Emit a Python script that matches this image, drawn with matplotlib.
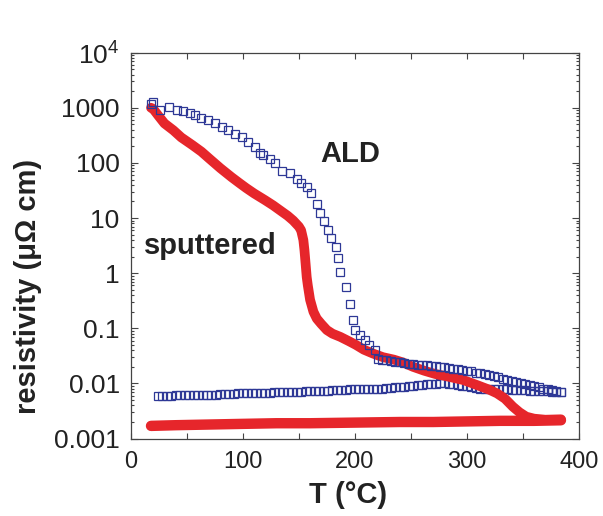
import numpy as np
import matplotlib

matplotlib.use("Agg")
import matplotlib.pyplot as plt
from matplotlib.ticker import LogLocator, NullFormatter

plt.rcParams["font.family"] = ["Liberation Sans", "DejaVu Sans"]
plt.rcParams["mathtext.fontset"] = "custom"
plt.rcParams["mathtext.rm"] = "Liberation Sans"

# sputtered film: heating run, then cooling run (T in °C, resistivity in µΩ cm)
sput_heat_T = [18, 20, 25, 30, 38, 45, 55, 63, 70, 80, 90, 97, 103, 110, 120, 127,
               135, 140, 145, 150, 152, 154, 155, 156, 157, 158, 160, 163, 166, 170,
               175, 180, 187, 195, 201, 208, 216, 225, 235, 243, 252, 262, 272, 282,
               297, 310, 320, 327, 334, 341, 347, 353, 360, 370, 384]
sput_heat_rho = [1000, 950, 700, 520, 390, 290, 210, 160, 120, 80, 55, 43, 35, 28, 21, 17,
                 13, 11, 9, 7, 6, 4, 2.6, 1.5, 0.85, 0.6, 0.33, 0.2, 0.15, 0.12,
                 0.093, 0.08, 0.07, 0.058, 0.05, 0.041, 0.035, 0.03, 0.027, 0.024, 0.02,
                 0.017, 0.0148, 0.0135, 0.0115, 0.0092, 0.0077, 0.0066, 0.0053, 0.0038,
                 0.003, 0.0025, 0.0023, 0.0022, 0.00224]
sput_cool_T = [384, 360, 330, 300, 270, 240, 200, 160, 130, 100, 70, 40, 18]
sput_cool_rho = [0.00215, 0.0021, 0.0021, 0.00205, 0.002, 0.002, 0.00195, 0.0019,
                 0.0019, 0.00185, 0.0018, 0.00175, 0.0017]

# ALD film: heating run, then cooling run
ald_heat_T = [18, 19.5, 26, 34, 41, 47, 53, 57, 63, 69, 75, 81, 87, 93, 99, 105, 111,
              115, 118, 124, 129, 135, 142, 148, 152, 157, 161, 166, 169, 172.6, 176,
              179, 183, 185, 187, 192, 195.5, 198.5, 200, 204.5, 209, 213, 218, 221,
              224, 228, 232, 236, 240, 244, 248, 252, 256, 260, 264, 268, 272, 276,
              280, 284, 288, 292, 296, 300, 304, 308, 312, 316, 320, 324, 328, 332,
              336, 340, 344, 348, 352, 356, 360, 364, 368, 372, 376, 380, 384]
ald_heat_rho = [1150, 1250, 930, 1050, 930, 870, 810, 740, 660, 600, 525, 450, 390, 340,
                290, 240, 195, 150, 138, 120, 98, 72, 65, 52, 44, 37, 29, 18, 12.3, 8.7,
                6.0, 4.3, 3.0, 1.86, 1.05, 0.56, 0.28, 0.14, 0.093, 0.076, 0.062, 0.05,
                0.041, 0.028, 0.0269, 0.0263, 0.0251, 0.0245, 0.024, 0.0234, 0.0229,
                0.0224, 0.0219, 0.0219, 0.0214, 0.0209, 0.0204, 0.02, 0.0195, 0.019,
                0.0186, 0.0182, 0.0174, 0.017, 0.0166, 0.0158, 0.0155, 0.0148, 0.0141,
                0.0135, 0.0129, 0.0123, 0.0117, 0.0112, 0.0107, 0.0102, 0.0098, 0.0093,
                0.0089, 0.0085, 0.0081, 0.0078, 0.0076, 0.0072, 0.0071]
ald_cool_T = [384, 380, 376, 372, 368, 364, 360, 356, 352, 348, 344, 340, 336, 332, 328,
              324, 320, 316, 312, 308, 304, 300, 296, 292, 288, 284, 280, 276, 272, 268,
              264, 260, 256, 252, 248, 244, 240, 236, 232, 228, 224, 220, 216, 212, 208,
              204, 200, 196, 192, 188, 184, 180, 176, 172, 168, 164, 160, 156, 152, 148,
              144, 140, 136, 132, 128, 124, 120, 116, 112, 108, 104, 100, 96, 92, 88,
              84, 80, 76, 72, 68, 64, 60, 56, 52, 48, 44, 40, 36, 32, 28, 24]
ald_cool_rho = [0.0069, 0.0071, 0.0071, 0.0072, 0.0072, 0.0074, 0.0074, 0.0074, 0.0076,
                0.0076, 0.0076, 0.0076, 0.0078, 0.0078, 0.0078, 0.0079, 0.0079, 0.0081,
                0.0081, 0.0083, 0.0087, 0.0089, 0.0091, 0.0093, 0.0096, 0.0098, 0.01,
                0.01, 0.0098, 0.0098, 0.0096, 0.0093, 0.0093, 0.0091, 0.0089, 0.0087,
                0.0085, 0.0085, 0.0083, 0.0083, 0.0081, 0.0081, 0.0079, 0.0079, 0.0079,
                0.0078, 0.0078, 0.0078, 0.0076, 0.0076, 0.0076, 0.0076, 0.0074, 0.0074,
                0.0074, 0.0072, 0.0072, 0.0072, 0.0071, 0.0071, 0.0071, 0.0071, 0.0069,
                0.0069, 0.0069, 0.0068, 0.0068, 0.0068, 0.0068, 0.0066, 0.0066, 0.0066,
                0.0066, 0.0065, 0.0065, 0.0065, 0.0065, 0.0063, 0.0063, 0.0063, 0.0063,
                0.0063, 0.0062, 0.0062, 0.0062, 0.0062, 0.0062, 0.006, 0.006, 0.006, 0.006]

x_ticks = [0, 50, 100, 150, 200, 250, 300, 350, 400]
x_labels = ["0", "", "100", "", "200", "", "300", "", "400"]
y_ticks = [1e-3, 1e-2, 1e-1, 1, 10, 100, 1000, 1e4]
y_labels = ["0.001", "0.01", "0.1", "1", "10", "100", "1000", r"$10^4$"]

RED = "#e6262b"
BLUE = "#2e3896"
INK = "#222222"

fig = plt.figure(figsize=(6.03, 5.16), dpi=100)
ax = fig.add_axes([0.217, 0.150, 0.743, 0.748])

ax.plot(ald_cool_T, ald_cool_rho, ls="none", marker="s", ms=5.4, mfc="none",
        mec=BLUE, mew=0.9)
ax.plot(sput_heat_T, sput_heat_rho, color=RED, lw=7, solid_capstyle="round",
        solid_joinstyle="round")
ax.plot(sput_cool_T, sput_cool_rho, color=RED, lw=7.5, solid_capstyle="round")
ax.plot(ald_heat_T, ald_heat_rho, ls="none", marker="s", ms=5.4, mfc="none",
        mec=BLUE, mew=0.9)

ax.set_yscale("log")
ax.set_xlim(0, 400)
ax.set_ylim(1e-3, 1e4)
ax.set_xticks(x_ticks, x_labels)
ax.set_yticks(y_ticks, y_labels)
ax.yaxis.set_minor_locator(LogLocator(base=10, subs=np.arange(2, 10)))
ax.yaxis.set_minor_formatter(NullFormatter())

ax.tick_params(axis="both", which="both", direction="in", top=True, right=True,
               color="#444444", width=0.8)
ax.tick_params(axis="x", which="major", length=4, labelsize=17, pad=9, labelcolor=INK)
ax.tick_params(axis="y", which="major", length=5, labelsize=19, pad=8, labelcolor=INK)
ax.tick_params(axis="y", which="minor", length=2.5)
for s in ax.spines.values():
    s.set_color("#444444")
    s.set_linewidth(0.9)

ax.text(195.5, 145, "ALD", fontsize=21, fontweight="bold", color=INK,
        ha="center", va="center")
ax.text(71.4, 3.1, "sputtered", fontsize=21, fontweight="bold", color=INK,
        ha="center", va="center")

fig.text(0.0464, 0.444, "resistivity (μΩ cm)", rotation=90, fontsize=21,
         fontweight="bold", color=INK, ha="center", va="center")
fig.text(0.577, 0.041, "T (°C)", fontsize=21, fontweight="bold", color=INK,
         ha="center", va="center")

fig.savefig("out.png", dpi=100, facecolor="white")
